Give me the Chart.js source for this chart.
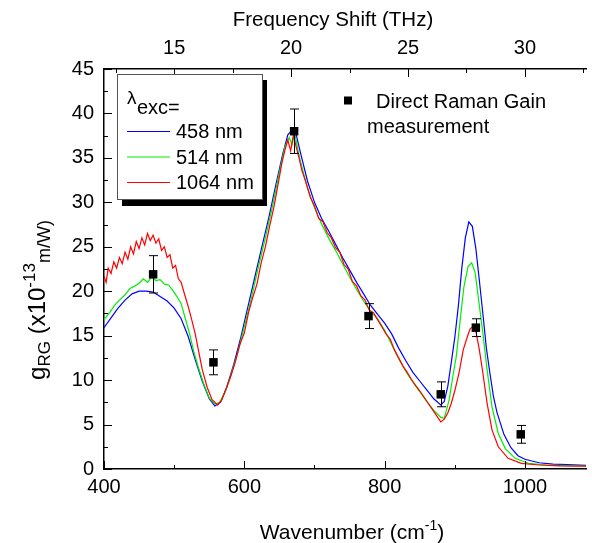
<!DOCTYPE html>
<html>
<head>
<meta charset="utf-8">
<script src="https://cdn.jsdelivr.net/npm/chart.js@4"></script>
<style>
  body { margin: 0; background: #fff; }
  #wrap { width: 592px; height: 543px; }
</style>
</head>
<body>
<div id="wrap"><canvas id="ramanChart"></canvas></div>
<script>
// 458 nm excitation
var blueX = [400,410,420,430,440,450,460,470,480,490,500,510,520,530,540,550,558,566,575,585,595,605,615,625,635,645,655,662,668,674,680,690,700,710,720,730,740,750,760,770,780,790,800,810,820,830,840,850,860,870,880,885,890,895,900,905,910,915,920,925,930,935,940,945,950,955,960,970,980,990,1000,1020,1040,1060,1087];
var blueY = [15.9,17.0,18.1,19.0,19.7,20.0,20.0,19.9,19.4,18.9,18.1,16.9,14.9,12.3,9.9,7.9,7.1,7.5,9.2,11.8,14.8,18.2,21.6,25.0,28.3,32.0,35.5,37.6,38.1,37.6,35.6,32.4,30.0,28.2,26.8,25.3,23.8,22.4,21.0,19.7,18.4,17.4,16.4,15.2,13.6,12.2,10.9,9.9,8.9,7.9,7.2,7.6,9.3,12.0,14.8,18.3,22.6,26.0,27.8,27.3,24.8,21.2,17.5,13.6,10.8,8.2,6.4,3.9,2.4,1.5,1.1,0.7,0.55,0.5,0.4];

// 514 nm excitation
var greenX = [400,408,415,422,430,437,444,450,456,462,468,474,480,486,492,498,504,510,516,522,528,535,542,550,558,565,572,580,590,600,610,620,630,640,650,658,664,668,672,676,680,690,700,710,720,730,740,750,760,770,780,790,800,810,820,830,840,850,860,870,880,885,892,898,902,908,913,919,924,929,934,940,946,953,962,972,986,1005,1030,1060,1087];
var greenY = [16.8,17.6,18.4,19.0,19.6,20.3,20.6,20.9,21.4,21.0,21.6,21.2,21.3,20.8,20.7,20.1,19.4,18.6,16.9,15.2,13.2,11.3,9.6,8.0,7.3,7.5,8.6,10.3,12.9,16.0,19.2,22.7,26.0,29.5,33.4,36.3,37.3,36.5,37.8,36.0,34.6,31.6,29.4,27.6,26.0,24.6,23.1,21.6,20.2,18.9,17.7,16.9,15.6,14.0,12.4,11.0,9.8,8.7,7.6,6.6,5.8,5.7,7.8,10.8,12.6,17.0,20.5,22.8,23.2,22.1,19.0,15.3,11.2,7.0,4.0,2.3,1.2,0.65,0.45,0.38,0.34];

// 1064 nm excitation
var redX = [400,403,406,410,414,418,422,426,430,434,438,442,446,450,454,458,462,466,470,474,478,482,486,490,494,498,502,506,510,515,520,525,530,535,540,547,554,562,568,574,580,587,594,600,606,612,618,624,630,636,642,648,654,658,662,666,670,674,678,682,688,694,700,706,712,718,724,730,736,742,748,754,760,766,772,778,784,790,796,802,808,814,820,826,832,838,844,850,856,862,868,874,880,885,890,895,900,906,912,918,922,926,930,935,940,946,953,962,976,995,1020,1050,1087];
var redY = [21.7,21.0,22.6,22.0,23.3,22.6,23.8,23.1,24.4,23.6,25.0,24.2,25.6,24.8,26.0,25.2,26.5,25.7,26.3,25.4,25.9,24.6,25.0,23.8,24.1,22.6,22.9,21.4,21.0,19.6,18.3,16.8,15.2,13.2,11.2,9.2,7.8,7.2,7.8,9.0,10.3,12.0,14.1,15.3,17.6,19.3,20.8,23.2,25.0,27.3,29.4,32.0,34.6,35.9,37.0,35.8,37.6,36.2,35.0,33.6,32.2,30.6,29.6,28.2,27.8,26.6,26.0,24.9,24.4,23.0,22.5,21.1,20.6,19.5,19.0,17.9,17.6,16.8,16.0,15.2,14.6,13.4,12.5,11.6,10.9,10.1,9.4,8.8,8.1,7.4,6.7,6.0,5.3,5.6,6.3,7.4,8.8,10.8,13.4,14.9,15.8,16.0,15.5,13.4,10.8,7.4,4.4,2.5,1.2,0.64,0.45,0.36,0.33];

// direct Raman gain measurements
var measX = [470, 556, 671, 777, 880, 930, 994];
var measY = [21.9, 12.0, 38.0, 17.2, 8.4, 15.9, 3.9];
var measErr = [2.1, 1.4, 2.5, 1.4, 1.4, 1.0, 1.0];

var xTicks = [400, 600, 800, 1000];
var thzTicks = [15, 20, 25, 30];
var yTicks = [0, 5, 10, 15, 20, 25, 30, 35, 40, 45];
var seriesNames = ['458 nm', '514 nm', '1064 nm'];
var seriesColors = ['#0000ff', '#00ee00', '#ff0000'];

var FONT = '"Liberation Sans", Arial, sans-serif';
var WN_PER_THZ = 100 / 3;

function pts(xs, ys)
{
  var out = [];
  for (var i = 0; i < xs.length; i++) out.push({x: xs[i], y: ys[i]});
  return out;
}

// text with sub/superscript pieces: [text, size, baselineShift]
function richWidth(ctx, parts)
{
  var w = 0;
  for (var i = 0; i < parts.length; i++) {
    ctx.font = parts[i][1] + 'px ' + FONT;
    w += ctx.measureText(parts[i][0]).width;
  }
  return w;
}
function drawRich(ctx, parts, x, y)
{
  ctx.textBaseline = 'alphabetic';
  ctx.textAlign = 'left';
  for (var i = 0; i < parts.length; i++) {
    ctx.font = parts[i][1] + 'px ' + FONT;
    ctx.fillText(parts[i][0], x, y + parts[i][2]);
    x += ctx.measureText(parts[i][0]).width;
  }
}

var extras = {
  id: 'extras',
  afterDatasetsDraw: function(chart) {
    var ctx = chart.ctx;
    var xs = chart.scales.x, ys = chart.scales.y;
    ctx.save();
    ctx.strokeStyle = '#000';
    ctx.lineWidth = 1;
    for (var i = 0; i < measX.length; i++) {
      var px = Math.round(xs.getPixelForValue(measX[i])) + 0.5;
      var top = ys.getPixelForValue(measY[i] + measErr[i]);
      var bot = ys.getPixelForValue(measY[i] - measErr[i]);
      ctx.beginPath();
      ctx.moveTo(px, top); ctx.lineTo(px, bot);
      ctx.moveTo(px - 4.5, top); ctx.lineTo(px + 4.5, top);
      ctx.moveTo(px - 4.5, bot); ctx.lineTo(px + 4.5, bot);
      ctx.stroke();
    }
    ctx.restore();
  },
  afterDraw: function(chart) {
    var ctx = chart.ctx;
    var area = chart.chartArea;
    var xs = chart.scales.x, x2 = chart.scales.x2, ys = chart.scales.y;
    var v, p, big;
    ctx.save();
    ctx.strokeStyle = '#000';
    ctx.lineWidth = 1;
    ctx.beginPath();
    // inward tick marks
    for (v = 400; v <= 1087; v += 100) {
      p = Math.round(xs.getPixelForValue(v)) + 0.5;
      big = (v % 200 == 0) ? 8 : 4;
      ctx.moveTo(p, area.bottom); ctx.lineTo(p, area.bottom - big);
    }
    for (v = 12.5; v <= 32.62; v += 2.5) {
      p = Math.round(x2.getPixelForValue(v)) + 0.5;
      big = (v % 5 == 0) ? 8 : 4;
      ctx.moveTo(p, area.top); ctx.lineTo(p, area.top + big);
    }
    for (v = 0; v <= 45; v += 2.5) {
      p = Math.round(ys.getPixelForValue(v)) + 0.5;
      big = (v % 5 == 0) ? 8 : 4;
      ctx.moveTo(area.left, p); ctx.lineTo(area.left + big, p);
    }
    ctx.stroke();

    ctx.fillStyle = '#000';
    // axis titles
    var topTitle = [['Frequency Shift (THz)', 20.5, 0]];
    drawRich(ctx, topTitle, 333 - richWidth(ctx, topTitle) / 2, 26);
    var botTitle = [['Wavenumber (cm', 21, 0], ['-1', 14, -9], [')', 21, 0]];
    drawRich(ctx, botTitle, 352 - richWidth(ctx, botTitle) / 2, 539);
    var yTitle = [['g', 24, 0], ['RG', 17, 5], [' (x10', 24, 0], ['-13', 17, -10], ['m/W)', 18, 5]];
    ctx.save();
    ctx.translate(45, 300);
    ctx.rotate(-Math.PI / 2);
    drawRich(ctx, yTitle, -richWidth(ctx, yTitle) / 2, 0);
    ctx.restore();

    // excitation legend with drop shadow
    ctx.fillStyle = '#000';
    ctx.fillRect(122, 80, 145, 126);
    ctx.fillStyle = '#fff';
    ctx.fillRect(117, 74, 145, 125);
    ctx.strokeStyle = '#555';
    ctx.lineWidth = 1;
    ctx.strokeRect(117.5, 74.5, 145, 125);
    ctx.fillStyle = '#000';
    drawRich(ctx, [['\u03bb', 19, 0]], 127, 104);
    drawRich(ctx, [['exc=', 20, 0]], 137, 114);
    for (var i = 0; i < seriesNames.length; i++) {
      var ly = 131.5 + i * 25.5;
      ctx.strokeStyle = seriesColors[i];
      ctx.lineWidth = 1.2;
      ctx.beginPath();
      ctx.moveTo(127, ly); ctx.lineTo(170, ly);
      ctx.stroke();
      ctx.font = '20px ' + FONT;
      ctx.textBaseline = 'middle';
      ctx.fillText(seriesNames[i], 176, ly + 1);
    }

    // measurement legend
    ctx.fillRect(344, 96.5, 8, 8);
    ctx.font = '20px ' + FONT;
    ctx.textBaseline = 'middle';
    ctx.fillText('Direct Raman Gain', 376, 102);
    ctx.fillText('measurement', 367, 127);
    ctx.restore();
  }
};

function plainLabel(v) { return String(v); }

var chart = new Chart(document.getElementById('ramanChart'), {
  type: 'line',
  data: {
    datasets: [
      { type: 'scatter', label: 'Direct Raman Gain measurement', data: pts(measX, measY),
        pointStyle: 'rect', radius: 6, backgroundColor: '#000', borderColor: '#000', borderWidth: 0, order: 0 },
      { label: seriesNames[2], data: pts(redX, redY), borderColor: seriesColors[2], borderWidth: 1.2,
        pointRadius: 0, tension: 0, order: 1 },
      { label: seriesNames[1], data: pts(greenX, greenY), borderColor: seriesColors[1], borderWidth: 1.2,
        pointRadius: 0, tension: 0, order: 2 },
      { label: seriesNames[0], data: pts(blueX, blueY), borderColor: seriesColors[0], borderWidth: 1.2,
        pointRadius: 0, tension: 0, order: 3 }
    ]
  },
  options: {
    responsive: true,
    maintainAspectRatio: false,
    animation: false,
    devicePixelRatio: 1,
    layout: { padding: { left: 0, right: 0, top: 0, bottom: 0 } },
    plugins: { legend: { display: false }, tooltip: { enabled: false } },
    scales: {
      x: {
        type: 'linear', position: 'bottom', min: 400, max: 1087,
        afterFit: function(s) { s.height = 74; },
        afterBuildTicks: function(s) { s.ticks = xTicks.map(function(v) { return {value: v}; }); },
        ticks: { color: '#000', font: { family: FONT, size: 20 }, padding: 6, maxRotation: 0, callback: plainLabel },
        grid: { display: false, drawTicks: false },
        border: { color: '#000', width: 1.5 }
      },
      x2: {
        type: 'linear', position: 'top', min: 400 / WN_PER_THZ, max: 1087 / WN_PER_THZ,
        afterFit: function(s) { s.height = 69; },
        afterBuildTicks: function(s) { s.ticks = thzTicks.map(function(v) { return {value: v}; }); },
        ticks: { color: '#000', font: { family: FONT, size: 20 }, padding: 9, maxRotation: 0, callback: plainLabel },
        grid: { display: false, drawTicks: false },
        border: { color: '#000', width: 1.5 }
      },
      y: {
        type: 'linear', min: 0, max: 45,
        afterFit: function(s) { s.width = 104; },
        afterBuildTicks: function(s) { s.ticks = yTicks.map(function(v) { return {value: v}; }); },
        ticks: { color: '#000', font: { family: FONT, size: 20 }, padding: 10, callback: plainLabel },
        grid: { display: false, drawTicks: false },
        border: { color: '#000', width: 1.5 }
      }
    }
  },
  plugins: [extras]
});
</script>
</body>
</html>
